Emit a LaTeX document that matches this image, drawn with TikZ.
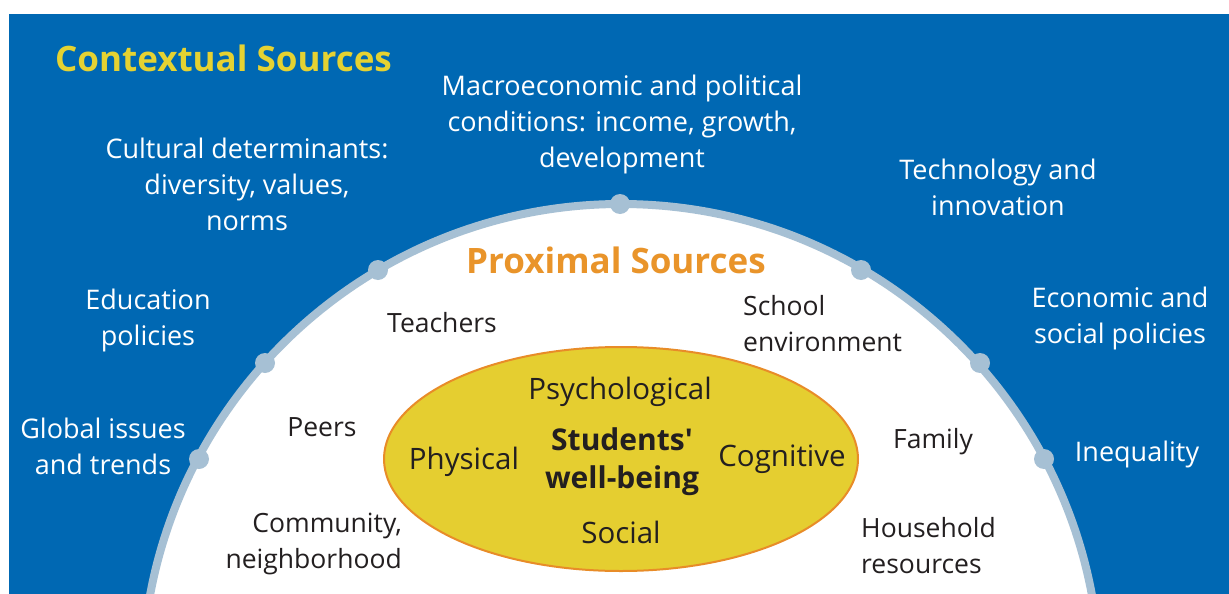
\documentclass[tikz,border=0pt]{standalone}
\usepackage{fontspec}
\setmainfont{Open Sans}
\definecolor{bgblue}{RGB}{0,104,179}
\definecolor{titleyellow}{RGB}{229,210,50}
\definecolor{proxorange}{RGB}{233,148,42}
\definecolor{ringblue}{RGB}{166,192,212}
\definecolor{ellfill}{RGB}{229,206,48}
\definecolor{ellline}{RGB}{232,140,40}
\definecolor{darktext}{RGB}{35,31,32}
\tikzset{
  ctx/.style={text=white, font=\fontsize{27}{36}\selectfont, align=center, inner sep=0pt, yshift=-3pt},
  prox/.style={text=darktext, font=\fontsize{26.5}{36}\selectfont, align=center, inner sep=0pt, yshift=-3pt},
  inner/.style={text=darktext, font=\fontsize{29.5}{38}\selectfont, align=center, inner sep=0pt, yshift=-3pt},
  dot/.style={circle, fill=ringblue, minimum size=20pt, inner sep=0pt},
}
\begin{document}
\begin{tikzpicture}[x=1pt,y=-1pt]
\useasboundingbox (0,0) rectangle (1229,594);
\fill[bgblue] (9,14) rectangle (1229,594);
\begin{scope}
\clip (9,14) rectangle (1229,594);
\fill[white] (621,683) circle (479);
\draw[ringblue, line width=8pt] (621,683) circle (479);
\end{scope}
% dots on ring
\node[dot] (d1) at (199,459) {};
\node[dot] (d2) at (265,363) {};
\node[dot] (d3) at (378,270) {};
\node[dot] (d4) at (620,204) {};
\node[dot] (d5) at (861,270) {};
\node[dot] (d6) at (980,363) {};
\node[dot] (d7) at (1044,459) {};
% titles
\node[anchor=west, text=titleyellow, font=\fontsize{35}{40}\selectfont\bfseries, inner sep=0pt, yshift=-1pt] (ctxtitle) at (55,57) {Contextual Sources};
\node[text=proxorange, font=\fontsize{35}{40}\selectfont\bfseries, inner sep=0pt, yshift=-1pt] (proxtitle) at (616,259) {Proximal Sources};
% contextual
\node[ctx] (macro) at (622,121) {Macroeconomic and political\\conditions: income, growth,\\development};
\node[ctx] (cult) at (247,181) {Cultural determinants:\\diversity, values,\\norms};
\node[ctx] (tech) at (998,184) {Technology and\\innovation};
\node[ctx] (edu) at (148,317) {Education\\policies};
\node[ctx] (econ) at (1120,315) {Economic and\\social policies};
\node[ctx] (glob) at (103,443) {Global issues\\and trends};
\node[ctx] (ineq) at (1137,451) {Inequality};
% proximal
\node[prox] (teach) at (442,320) {Teachers};
\node[prox, align=left, anchor=west] (school) at (743,321) {School\\environment};
\node[prox] (peers) at (322,424) {Peers};
\node[prox] (family) at (933,439) {Family};
\node[prox, align=right, anchor=east] (comm) at (402,541) {Community,\\neighborhood};
\node[prox, align=left, anchor=west] (house) at (861,543) {Household\\resources};
% ellipse
\draw[ellline, fill=ellfill, line width=2pt] (621,459) ellipse (237 and 112);
\node[inner] (psy) at (620,389) {Psychological};
\node[inner] (phys) at (464,459) {Physical};
\node[inner] (cog) at (782,456) {Cognitive};
\node[inner] (soc) at (621,529) {Social};
\node[inner, font=\fontsize{30}{38}\selectfont\bfseries] (wb) at (622,459) {Students\textquotesingle\\well-being};
\end{tikzpicture}
\end{document}
